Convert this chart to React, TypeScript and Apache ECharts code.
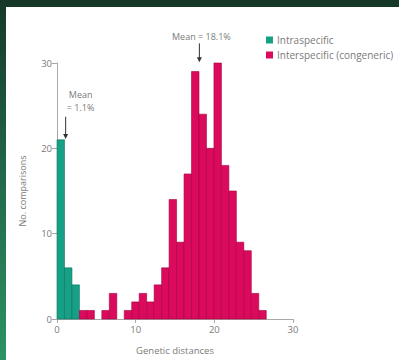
import React, { useEffect, useRef } from "react";
import * as echarts from "echarts";

// Histogram bins (bin index i covers [i*BIN_W, (i+1)*BIN_W))
const BIN_W = 0.95;
const intraStartBin = 0;
const intraCounts = [21, 6, 4];
const interStartBin = 3;
const interCounts = [1, 1, 0, 1, 3, 0, 1, 2, 3, 2, 4, 6, 14, 9, 17, 29, 24, 20, 30, 18, 15, 9, 8, 3, 1];
const xTicks = [0, 10, 20, 30];
const yTicks = [0, 10, 20, 30];
const intraMean = 1.1;
const interMean = 18.1;
const seriesNames = ["Intraspecific", "Interspecific (congeneric)"];

const TEAL = "#16a085";
const TEAL_EDGE = "#0d7464";
const PINK = "#dc0a5d";
const PINK_EDGE = "#a3003f";
const TEXT = "#7a7a7a";
const FONT = "Open Sans";

function toData(start: number, counts: number[]) {
  return counts.map((c, k) => [start + k, c]);
}

function makeRender(fill: string, stroke: string) {
  return (params: any, api: any) => {
    const i = api.value(0);
    const v = api.value(1);
    if (!v) return { type: "group", children: [] };
    const p0 = api.coord([i * BIN_W, 0]);
    const p1 = api.coord([(i + 1) * BIN_W, v]);
    return {
      type: "rect",
      shape: { x: p0[0], y: p1[1], width: p1[0] - p0[0], height: p0[1] - p1[1] },
      style: { fill, stroke, lineWidth: 0.6 },
    };
  };
}

export default function App() {
  const ref = useRef<HTMLDivElement>(null);
  useEffect(() => {
    if (!ref.current) return;
    const chart = echarts.init(ref.current, undefined, { renderer: "svg" });
    const option: any = {
      animation: false,
      backgroundColor: "#ffffff",
      textStyle: { fontFamily: FONT },
      grid: { left: 57, top: 63, width: 236, height: 257 },
      legend: {
        orient: "vertical",
        left: 261,
        top: 30,
        itemWidth: 7,
        itemHeight: 7,
        itemGap: 5,
        icon: "rect",
        textStyle: { fontSize: 10, color: TEXT, fontFamily: FONT, padding: [0, 0, 0, -1] },
        data: seriesNames,
      },
      xAxis: {
        type: "value",
        min: xTicks[0],
        max: xTicks[xTicks.length - 1],
        interval: 10,
        name: "Genetic distances",
        nameLocation: "middle",
        nameGap: 26,
        nameTextStyle: { fontSize: 9.5, color: TEXT, fontFamily: FONT },
        axisLine: { show: true, lineStyle: { color: "#a8a8a8", width: 1 } },
        axisTick: { show: true, length: 4, lineStyle: { color: "#a8a8a8" } },
        axisLabel: { fontSize: 9.5, color: TEXT, margin: 5, fontFamily: FONT },
        splitLine: { show: false },
      },
      yAxis: {
        type: "value",
        min: yTicks[0],
        max: yTicks[yTicks.length - 1],
        interval: 10,
        name: "No. comparisons",
        nameLocation: "middle",
        nameGap: 30,
        nameTextStyle: { fontSize: 9, color: TEXT, fontFamily: FONT },
        axisLine: { show: true, lineStyle: { color: "#a8a8a8", width: 1 } },
        axisTick: { show: true, length: 5, lineStyle: { color: "#a8a8a8" } },
        axisLabel: { fontSize: 9.5, color: TEXT, margin: 5, fontFamily: FONT },
        splitLine: { show: false },
      },
      series: [
        {
          name: seriesNames[0],
          type: "custom",
          itemStyle: { color: TEAL },
          renderItem: makeRender(TEAL, TEAL_EDGE),
          data: toData(intraStartBin, intraCounts),
        },
        {
          name: seriesNames[1],
          type: "custom",
          itemStyle: { color: PINK },
          renderItem: makeRender(PINK, PINK_EDGE),
          data: toData(interStartBin, interCounts),
        },
      ],
    };
    chart.setOption(option);

    const px = (x: number, y: number) =>
      chart.convertToPixel({ xAxisIndex: 0, yAxisIndex: 0 }, [x, y]) as number[];
    const arrow = (x: number, yTop: number, yTip: number) => {
      const a = px(x, yTop);
      const b = px(x, yTip);
      return [
        { type: "line", shape: { x1: a[0], y1: a[1], x2: b[0], y2: b[1] - 4 }, style: { stroke: "#333", lineWidth: 1 }, z: 10 },
        {
          type: "polygon",
          shape: { points: [[b[0] - 2.5, b[1] - 5], [b[0] + 2.5, b[1] - 5], [b[0], b[1]]] },
          style: { fill: "#333" },
          z: 10,
        },
      ];
    };
    const t1 = px(intraMean, 25.6);
    const t2 = px(interMean, 33.1);
    const h = 360;
    chart.setOption({
      graphic: [
        { type: "rect", shape: { x: 0, y: 0, width: 399, height: 7 }, style: { fill: "#163827" }, z: 0 },
        {
          type: "rect",
          shape: { x: 0, y: 0, width: 6, height: h },
          style: {
            fill: new echarts.graphic.LinearGradient(0, 0, 0, 1, [
              { offset: 0, color: "#163827" },
              { offset: 0.5, color: "#22694a" },
              { offset: 1, color: "#2b9264" },
            ]),
          },
          z: 0,
        },
        ...arrow(intraMean, 23.7, 21.1),
        ...arrow(interMean, 32.3, 30.1),
        {
          type: "text",
          x: t1[0] + 15,
          y: t1[1],
          style: { text: "Mean\n= 1.1%", fill: TEXT, fontSize: 9, fontFamily: FONT, align: "center", verticalAlign: "middle", lineHeight: 13 },
          z: 10,
        },
        {
          type: "text",
          x: t2[0] + 2,
          y: t2[1],
          style: { text: "Mean = 18.1%", fill: TEXT, fontSize: 9, fontFamily: FONT, align: "center", verticalAlign: "middle" },
          z: 10,
        },
      ],
    });
    return () => chart.dispose();
  }, []);
  return <div ref={ref} style={{ position: "fixed", left: 0, top: 0, width: 399, height: 360 }} />;
}
